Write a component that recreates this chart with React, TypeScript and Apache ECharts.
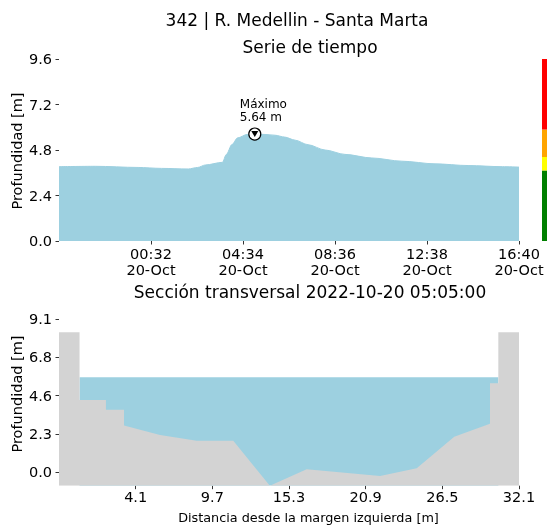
import React, { useEffect, useRef } from "react";
import * as echarts from "echarts";

// ---- Data ----
const mainTitle = "342 | R. Medellin - Santa Marta";
const topTitle = "Serie de tiempo";
const bottomTitle = "Sección transversal 2022-10-20 05:05:00";
const yName = "Profundidad [m]";
const xNameBottom = "Distancia desde la margen izquierda [m]";

const seriesTimes = [
  "2022-10-19 20:30", "2022-10-19 22:05", "2022-10-19 23:58", "2022-10-20 01:00",
  "2022-10-20 02:10", "2022-10-20 02:35", "2022-10-20 02:55", "2022-10-20 03:40",
  "2022-10-20 03:50", "2022-10-20 04:05", "2022-10-20 04:20", "2022-10-20 04:45",
  "2022-10-20 05:05", "2022-10-20 05:32", "2022-10-20 05:58", "2022-10-20 06:24",
  "2022-10-20 06:51", "2022-10-20 07:25", "2022-10-20 08:10", "2022-10-20 09:02",
  "2022-10-20 10:13", "2022-10-20 11:32", "2022-10-20 12:59", "2022-10-20 14:26",
  "2022-10-20 15:56", "2022-10-20 16:40",
];
const seriesDepth = [
  3.92, 3.94, 3.88, 3.83,
  3.80, 3.88, 4.01, 4.15,
  4.56, 5.09, 5.44, 5.62,
  5.64, 5.62, 5.58, 5.48,
  5.32, 5.08, 4.80, 4.57,
  4.38, 4.21, 4.07, 3.98,
  3.92, 3.90,
];
const maxTime = "2022-10-20 05:05";
const maxDepth = 5.64;
const maxLabel = "Máximo\n5.64 m";

const timeTickTimes = ["2022-10-20 00:32", "2022-10-20 04:34", "2022-10-20 08:36", "2022-10-20 12:38", "2022-10-20 16:40"];
const timeAxisMin = "2022-10-19 20:30";
const timeAxisMax = "2022-10-20 16:40";
const depthTicks = [0, 2.4, 4.8, 7.2, 9.6];

const levelColors = ["#008000", "#ffff00", "#ffa500", "#ff0000"];
const levelBounds = [0, 3.72, 4.43, 5.88, 9.6];

const bedX = [-1.5, 0, 0, 1.93, 1.93, 3.25, 3.25, 5.88, 8.56, 11.23, 13.9, 16.59, 21.95, 24.63, 27.37, 29.98, 29.98, 30.59, 30.59, 32.1];
const bedY = [8.31, 8.31, 4.29, 4.29, 3.70, 3.70, 2.77, 2.21, 1.86, 1.86, -0.80, 0.18, -0.22, 0.24, 2.11, 2.87, 5.28, 5.28, 8.31, 8.31];
const waterLevel = 5.64;
const waterLeft = 0;
const waterRight = 30.59;

const distTicks = [4.1, 9.7, 15.3, 20.9, 26.5, 32.1];
const distTickLabels = ["4.1", "9.7", "15.3", "20.9", "26.5", "32.1"];
const secTicks = [0, 2.275, 4.55, 6.825, 9.1];
const secTickLabels = ["0.0", "2.3", "4.6", "6.8", "9.1"];

// ---- helpers ----
const toMs = (s: string) => new Date(s.replace(" ", "T") + ":00Z").getTime();
const pad = (n: number) => (n < 10 ? "0" + n : "" + n);
const months = ["Jan", "Feb", "Mar", "Apr", "May", "Jun", "Jul", "Aug", "Sep", "Oct", "Nov", "Dec"];

const FONT = "DejaVu Sans";
const WATER = "#9dd0e0";
const BED = "#d3d3d3";

export default function App() {
  const ref = useRef<HTMLDivElement>(null);
  useEffect(() => {
    if (!ref.current) return;
    const chart = echarts.init(ref.current, undefined, { renderer: "svg" });

    const tsData = seriesTimes.map((t, i) => [toMs(t), seriesDepth[i]]);
    const tickMs = timeTickTimes.map(toMs);
    const bedData = bedX.map((x, i) => [x, bedY[i]]);
    const waterData = [[waterLeft, waterLevel], [waterRight, waterLevel]];

    const tickStyle = { show: true, length: 3.5, lineStyle: { color: "#000", width: 0.8 } };
    const labelBase = { color: "#000", fontFamily: FONT, fontSize: 14.5 };
    const noLine = { show: false, onZero: false };

    const levelSeries = levelColors.map((c, i) => ({
      type: "bar",
      xAxisIndex: 1,
      yAxisIndex: 1,
      stack: "lvl",
      barWidth: "100%",
      data: [levelBounds[i + 1] - levelBounds[i]],
      itemStyle: { color: c },
      silent: true,
    }));

    const txt = (text: string, x: number, y: number, size: number, rotation = 0) => ({
      type: "text",
      x,
      y,
      rotation,
      style: { text, fontFamily: FONT, fontSize: size, fill: "#000", align: "center", verticalAlign: "middle" },
    });

    chart.setOption({
      animation: false,
      textStyle: { fontFamily: FONT },
      grid: [
        { left: 59, top: 59, width: 460, height: 182, containLabel: false, outerBoundsMode: "none" },
        { left: 542, top: 59, width: 6, height: 182, containLabel: false, outerBoundsMode: "none" },
        { left: 59, top: 303.7, width: 460, height: 182, containLabel: false, outerBoundsMode: "none" },
      ],
      xAxis: [
        {
          type: "value",
          gridIndex: 0,
          min: toMs(timeAxisMin),
          max: toMs(timeAxisMax),
          axisLine: noLine,
          axisTick: { ...tickStyle, customValues: tickMs },
          splitLine: { show: false },
          axisLabel: {
            ...labelBase,
            customValues: tickMs,
            margin: 5,
            lineHeight: 16,
            formatter: (v: number) => {
              const d = new Date(v);
              return pad(d.getUTCHours()) + ":" + pad(d.getUTCMinutes()) + "\n" + pad(d.getUTCDate()) + "-" + months[d.getUTCMonth()];
            },
          },
        },
        { type: "category", gridIndex: 1, data: ["n"], show: false },
        {
          type: "value",
          gridIndex: 2,
          min: -1.5,
          max: 32.1,
          axisLine: noLine,
          axisTick: { ...tickStyle, customValues: distTicks },
          splitLine: { show: false },
          axisLabel: {
            ...labelBase,
            customValues: distTicks,
            margin: 4,
            formatter: (v: number) => {
              const i = distTicks.findIndex((t) => Math.abs(t - v) < 1e-6);
              return i >= 0 ? distTickLabels[i] : "";
            },
          },
        },
      ],
      yAxis: [
        {
          type: "value",
          gridIndex: 0,
          min: 0,
          max: 9.6,
          axisLine: noLine,
          axisTick: { ...tickStyle, customValues: depthTicks },
          splitLine: { show: false },
          axisLabel: { ...labelBase, customValues: depthTicks, margin: 7, formatter: (v: number) => v.toFixed(1) },
        },
        { type: "value", gridIndex: 1, min: levelBounds[0], max: levelBounds[levelBounds.length - 1], show: false },
        {
          type: "value",
          gridIndex: 2,
          min: -0.8,
          max: 10.0,
          axisLine: noLine,
          axisTick: { ...tickStyle, customValues: secTicks },
          splitLine: { show: false },
          axisLabel: {
            ...labelBase,
            customValues: secTicks,
            margin: 7,
            formatter: (v: number) => {
              const i = secTicks.findIndex((t) => Math.abs(t - v) < 1e-6);
              return i >= 0 ? secTickLabels[i] : "";
            },
          },
        },
      ],
      graphic: [
        txt(mainTitle, 297, 19.5, 17),
        txt(topTitle, 310, 46.7, 17),
        txt(bottomTitle, 310, 292, 17),
        txt(xNameBottom, 308.5, 517, 12.8),
        txt(yName, 16.5, 151, 14.5, Math.PI / 2),
        txt(yName, 16.5, 394, 14.5, Math.PI / 2),
      ],
      series: [
        {
          type: "line",
          xAxisIndex: 0,
          yAxisIndex: 0,
          data: tsData,
          showSymbol: false,
          smooth: 0.3,
          smoothMonotone: "x",
          lineStyle: { color: WATER, width: 1 },
          areaStyle: { color: WATER, opacity: 1, origin: "start" },
          silent: true,
        },
        {
          type: "scatter",
          xAxisIndex: 0,
          yAxisIndex: 0,
          data: [[toMs(maxTime), maxDepth]],
          symbol: "circle",
          symbolSize: 12,
          itemStyle: { color: "#fff", borderColor: "#000", borderWidth: 1.2, opacity: 1 },
          label: {
            show: true,
            position: "top",
            align: "left",
            offset: [-15, 1.5],
            formatter: maxLabel,
            fontFamily: FONT,
            fontSize: 12,
            lineHeight: 13,
            color: "#000",
            opacity: 1,
          },
          z: 5,
          silent: true,
        },
        {
          type: "scatter",
          xAxisIndex: 0,
          yAxisIndex: 0,
          data: [[toMs(maxTime), maxDepth]],
          symbol: "triangle",
          symbolRotate: 180,
          symbolSize: [7, 6],
          itemStyle: { color: "#000", opacity: 1 },
          z: 6,
          silent: true,
        },
        ...levelSeries,
        {
          type: "line",
          xAxisIndex: 2,
          yAxisIndex: 2,
          data: waterData,
          showSymbol: false,
          lineStyle: { width: 0 },
          areaStyle: { color: WATER, opacity: 1, origin: "start" },
          z: 2,
          silent: true,
        },
        {
          type: "line",
          xAxisIndex: 2,
          yAxisIndex: 2,
          data: bedData,
          showSymbol: false,
          lineStyle: { width: 0 },
          areaStyle: { color: BED, opacity: 1, origin: "start" },
          z: 3,
          silent: true,
        },
      ],
    });
    return () => chart.dispose();
  }, []);
  return <div ref={ref} style={{ position: "fixed", left: 0, top: 0, width: 547, height: 525 }} />;
}
